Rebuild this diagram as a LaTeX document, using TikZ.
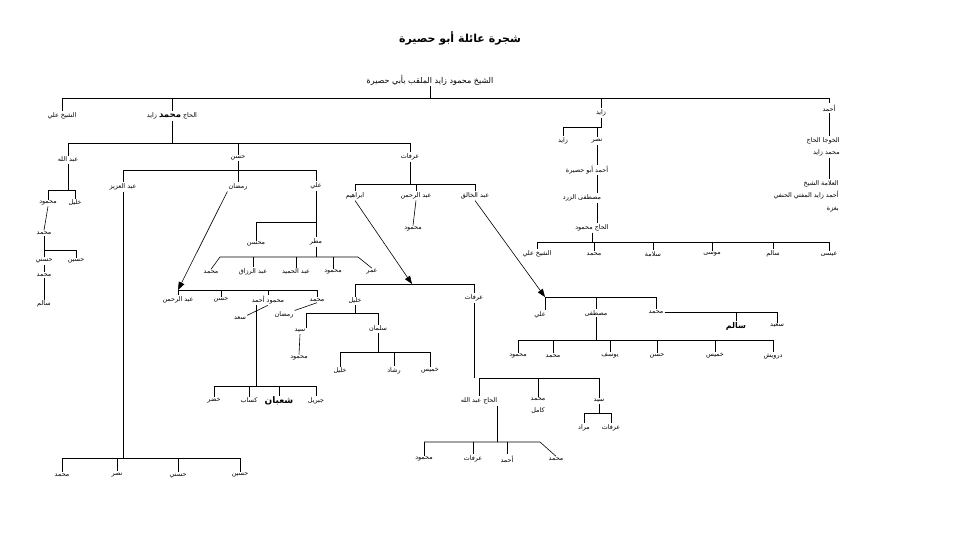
\documentclass[tikz,border=0pt]{standalone}
\usepackage{fontspec}
\newfontfamily\arfont[Script=Arabic]{DejaVu Sans}
\usetikzlibrary{arrows.meta}
\TeXXeTstate=1
\newcommand\AR[1]{\beginR #1\endR}
\newcommand\famdrop[2]{\foreach \c in {#2} \draw (\c.north |- #1) -- (\c.north);}
\tikzset{
 nm/.style={font=\arfont\fontsize{6.4}{7}\selectfont, inner sep=1pt, text=black},
 bnm/.style={font=\arfont\bfseries\fontsize{8}{9}\selectfont, inner sep=1pt, text=black},
 arr/.style={-{Triangle[length=8pt,width=6pt]}},
}
\begin{document}
\begin{tikzpicture}[x=1pt,y=-1pt,line width=0.6pt]
\fill[white] (0,0) rectangle (955,537);
\useasboundingbox (0,0) rectangle (955,537);

% title and root
\node[font=\arfont\bfseries\fontsize{11}{13}\selectfont] (T) at (460,38) {\AR{شجرة عائلة أبو حصيرة}};
\node[nm, font=\arfont\fontsize{8}{9}\selectfont] (R) at (430,80) {\AR{الشيخ محمود زايد الملقب بأبي حصيرة}};

% first generation
\node[nm] (n1) at (62,116) {\AR{الشيخ علي}};
\node[nm] (n2) at (172,116) {\AR{الحاج {\bfseries\fontsize{8.5}{9}\selectfont محمد} زايد}};
\node[nm] (n3) at (601,113) {\AR{زايد}};
\node[nm] (n4) at (829,108) {\AR{أحمد}};
\coordinate (yR) at (0,98);
\draw (R.south) -- (R.south |- yR);
\draw (n1.north |- yR) -- (n4.north |- yR);
\famdrop{yR}{n1,n2,n3,n4}

% branch Ahmad
\node[nm, align=right, anchor=north east, font=\arfont\fontsize{6.4}{12.5}\selectfont] (A1) at (841,136) {\AR{الخوجا الحاج}\\\AR{محمد زايد}};
\node[nm, align=right, anchor=north east, font=\arfont\fontsize{6.4}{12.5}\selectfont] (A2) at (840,179) {\AR{العلامة الشيخ}\\\AR{أحمد زايد المفتي الحنفي}\\\AR{بغزة}};
\draw (n4.south) -- (n4.south |- A1.north);
\draw (A1.south -| n4) -- (A2.north -| n4);

% branch Zayd
\node[nm] (z2) at (563,141) {\AR{زايد}};
\node[nm] (nasr) at (597,141) {\AR{نصر}};
\coordinate (yZ) at (0,127);
\draw (n3.south) -- (n3.south |- yZ) -- (z2.north |- yZ) -- (z2.north);
\draw (nasr.north |- yZ) -- (nasr.north);
\node[nm] (AA) at (587,170) {\AR{أحمد أبو حصيرة}};
\node[nm] (MZ) at (582,198) {\AR{مصطفى الزرد}};
\node[nm] (HM) at (592,228) {\AR{الحاج محمود}};
\draw (nasr.south) -- (nasr.south |- AA.north);
\draw (AA.south -| nasr) -- (MZ.north -| nasr);
\draw (MZ.south -| nasr) -- (HM.north -| nasr);
\node[nm] (h1) at (537,254) {\AR{الشيخ علي}};
\node[nm] (h2) at (594,254) {\AR{محمد}};
\node[nm] (h3) at (653,254) {\AR{سلامة}};
\node[nm] (h4) at (712,254) {\AR{موسى}};
\node[nm] (h5) at (773,254) {\AR{سالم}};
\node[nm] (h6) at (829,254) {\AR{عيسى}};
\coordinate (yHM) at (0,242);
\draw (HM.south) -- (HM.south |- yHM);
\draw (h1.north |- yHM) -- (h6.north |- yHM);
\famdrop{yHM}{h1,h2,h3,h4,h5,h6}

% branch al-Hajj ... Zayd
\node[nm] (A) at (68,160) {\AR{عبد الله}};
\node[nm] (H) at (238,158) {\AR{حسن}};
\node[nm] (Ar) at (410,157) {\AR{عرفات}};
\coordinate (yL) at (0,143);
\draw (n2.south) -- (n2.south |- yL);
\draw (A.north |- yL) -- (Ar.north |- yL);
\famdrop{yL}{A,H,Ar}

% Abdallah
\node[nm] (M1) at (48,203) {\AR{محمود}};
\node[nm] (K1) at (75,203) {\AR{خليل}};
\coordinate (yA) at (0,190);
\draw (A.south) -- (A.south |- yA);
\draw (M1.north |- yA) -- (K1.north |- yA);
\famdrop{yA}{M1,K1}
\node[nm] (MM) at (44,233) {\AR{محمد}};
\draw (M1.south) -- (MM.north);
\node[nm] (HS) at (44,261) {\AR{حسني}};
\node[nm] (HN) at (76,261) {\AR{حسين}};
\coordinate (yMM) at (0,250);
\draw (MM.south) -- (MM.south |- yMM) -- (HN.north |- yMM) -- (HN.north);
\draw (MM.south |- yMM) -- (HS.north);
\node[nm] (MM2) at (44,275) {\AR{محمد}};
\draw (HS.south) -- (MM2.north);
\node[nm] (SL) at (44,304) {\AR{سالم}};
\draw (MM2.south) -- (SL.north);

% Hasan
\node[nm] (AZ) at (123,187) {\AR{عبد العزيز}};
\node[nm] (Ram) at (238,187) {\AR{رمضان}};
\node[nm] (Ali) at (316,186) {\AR{علي}};
\coordinate (yH) at (0,170);
\draw (H.south) -- (H.south |- yH);
\draw (AZ.north |- yH) -- (Ali.north |- yH);
\famdrop{yH}{AZ,Ram,Ali}

% Abd al-Aziz
\node[nm] (Z1) at (62,475) {\AR{محمد}};
\node[nm] (Z2) at (117,475) {\AR{نصر}};
\node[nm] (Z3) at (178,476) {\AR{حسني}};
\node[nm] (Z4) at (240,475) {\AR{حسين}};
\coordinate (yAZ) at (0,458);
\draw (AZ.south) -- (AZ.south |- yAZ);
\draw (Z1.north |- yAZ) -- (Z4.north |- yAZ);
\famdrop{yAZ}{Z1,Z2,Z3,Z4}

% Ramadan
\node[nm] (RA) at (178,300) {\AR{عبد الرحمن}};
\node[nm] (RH) at (221,300) {\AR{حسن}};
\node[nm] (RMA) at (268,300) {\AR{محمود أحمد}};
\node[nm] (RM) at (317,300) {\AR{محمد}};
\coordinate (yRam) at (0,290);
\draw[arr] (Ram.south west) -- (RA.north |- yRam);
\draw (RA.north |- yRam) -- (RM.north |- yRam);
\famdrop{yRam}{RA,RH,RMA,RM}
\node[nm] (Sad) at (240,318) {\AR{سعد}};
\draw (RMA.south) -- (Sad.north east);
\coordinate (mA) at (256,305);
\node[nm] (KD) at (214,401) {\AR{خضر}};
\node[nm] (KS) at (249,401) {\AR{كساب}};
\node[bnm, font=\arfont\bfseries\fontsize{9}{10}\selectfont] (SH) at (279,401) {\AR{شعبان}};
\node[nm] (JB) at (316,401) {\AR{جبريل}};
\coordinate (yMA) at (0,386);
\draw (mA) -- (mA |- yMA);
\draw (KD.north |- yMA) -- (JB.north |- yMA);
\famdrop{yMA}{KD,KS,SH,JB}
\node[nm] (RR) at (284,315) {\AR{رمضان}};
\draw (RM.south) -- (RR.north east);
\node[nm] (Sy) at (300,331) {\AR{سيد}};
\node[nm] (SM) at (299,358) {\AR{محمود}};
\draw (Sy.south) -- (SM.north);

% Ali
\node[nm] (Ms) at (256,244) {\AR{محسن}};
\node[nm] (Mt) at (316,242) {\AR{مطر}};
\coordinate (yAli) at (0,222);
\draw (Ali.south) -- (Mt.north);
\draw (Ms.north) -- (Ms.north |- yAli) -- (Ali.south |- yAli);
\node[nm] (T1) at (211,272) {\AR{محمد}};
\node[nm] (T2) at (253,272) {\AR{عبد الرزاق}};
\node[nm] (T3) at (296,272) {\AR{عبد الحميد}};
\node[nm] (T4) at (333,272) {\AR{محمود}};
\node[nm] (T5) at (372,272) {\AR{عمر}};
\coordinate (yMt) at (0,257);
\coordinate (mtL) at (220,257);
\coordinate (mtR) at (358,257);
\draw (Mt.south) -- (Mt.south |- yMt);
\draw (T1.north) -- (mtL) -- (mtR) -- (T5.north);
\famdrop{yMt}{T2,T3,T4}

% Arafat (top)
\node[nm] (Ib) at (355,196) {\AR{ابراهيم}};
\node[nm] (ARn) at (416,196) {\AR{عبد الرحمن}};
\node[nm] (AK) at (475,196) {\AR{عبد الخالق}};
\coordinate (yAr) at (0,184);
\draw (Ar.south) -- (Ar.south |- yAr);
\draw (Ib.north |- yAr) -- (AK.north |- yAr);
\famdrop{yAr}{Ib,ARn,AK}
\node[nm] (ARM) at (413,229) {\AR{محمود}};
\draw (ARn.south) -- (ARM.north);

% Ibrahim
\node[nm] (KhL) at (355,301) {\AR{خليل}};
\node[nm] (ArB) at (474,298) {\AR{عرفات}};
\coordinate (yIb) at (0,284);
\coordinate (ibT) at (412,284);
\draw[arr] (Ib.south) -- (ibT);
\draw (KhL.north |- yIb) -- (ArB.north |- yIb);
\famdrop{yIb}{KhL,ArB}

% Khalil
\node[nm] (Sl) at (378,329) {\AR{سلمان}};
\coordinate (yKh) at (0,313);
\draw (KhL.south) -- (KhL.south |- yKh);
\draw (Sy.north east) -- (Sy.north east |- yKh) -- (Sl.north |- yKh) -- (Sl.north);
\node[nm] (KL) at (340,371) {\AR{خليل}};
\node[nm] (RS) at (394,371) {\AR{رشاد}};
\node[nm] (KM) at (430,371) {\AR{خميس}};
\coordinate (ySl) at (0,352);
\draw (Sl.south) -- (Sl.south |- ySl);
\draw (KL.north |- ySl) -- (KM.north |- ySl);
\famdrop{ySl}{KL,RS,KM}

% Arafat (lower)
\node[nm] (HA) at (479,401) {\AR{الحاج عبد الله}};
\node[nm, align=center, font=\arfont\fontsize{6.4}{12}\selectfont] (MK) at (538,406) {\AR{محمد}\\\AR{كامل}};
\node[nm] (Sd) at (599,401) {\AR{سيد}};
\coordinate (yArB) at (0,378);
\draw (ArB.south) -- (ArB.south |- yArB);
\draw (HA.north |- yArB) -- (Sd.north |- yArB);
\famdrop{yArB}{HA,MK,Sd}
\node[nm] (Mr) at (584,428) {\AR{مراد}};
\node[nm] (Af) at (611,428) {\AR{عرفات}};
\coordinate (ySd) at (0,413);
\draw (Sd.south) -- (Sd.south |- ySd);
\draw (Mr.north |- ySd) -- (Af.north |- ySd);
\famdrop{ySd}{Mr,Af}
\coordinate (hA) at (497,406);
\node[nm] (Q1) at (424,459) {\AR{محمود}};
\node[nm] (Q2) at (473,459) {\AR{عرفات}};
\node[nm] (Q3) at (507,459) {\AR{أحمد}};
\node[nm] (Q4) at (556,459) {\AR{محمد}};
\coordinate (yHA) at (0,442);
\coordinate (hR) at (540,442);
\draw (hA) -- (hA |- yHA);
\draw (Q1.north |- yHA) -- (hR) -- (Q4.north);
\famdrop{yHA}{Q1,Q2,Q3}

% Abd al-Khaliq
\node[nm] (KA) at (540,315) {\AR{علي}};
\node[nm] (KM2) at (596,313) {\AR{مصطفى}};
\node[nm] (KMd) at (656,312) {\AR{محمد}};
\coordinate (yAK) at (0,297);
\coordinate (akT) at (545,297);
\draw[arr] (AK.south) -- (akT);
\draw (akT) -- (KMd.north |- yAK);
\draw (akT) -- (akT |- KA.north);
\famdrop{yAK}{KM2,KMd}
\node[bnm] (B1) at (736,326) {\AR{سالم}};
\node[nm] (Sa) at (777,326) {\AR{سعيد}};
\coordinate (yMd) at (0,312);
\draw (KMd.east) -- (Sa.north |- yMd) -- (Sa.north);
\famdrop{yMd}{B1}
\node[nm] (P1) at (518,356) {\AR{محمود}};
\node[nm] (P2) at (553,356) {\AR{محمد}};
\node[nm] (P3) at (610,356) {\AR{يوسف}};
\node[nm] (P4) at (657,356) {\AR{حسن}};
\node[nm] (P5) at (715,356) {\AR{خميس}};
\node[nm] (P6) at (773,356) {\AR{درويش}};
\coordinate (yMs) at (0,340);
\draw (KM2.south) -- (KM2.south |- yMs);
\draw (P1.north |- yMs) -- (P6.north |- yMs);
\famdrop{yMs}{P1,P2,P3,P4,P5,P6}
\end{tikzpicture}
\end{document}
